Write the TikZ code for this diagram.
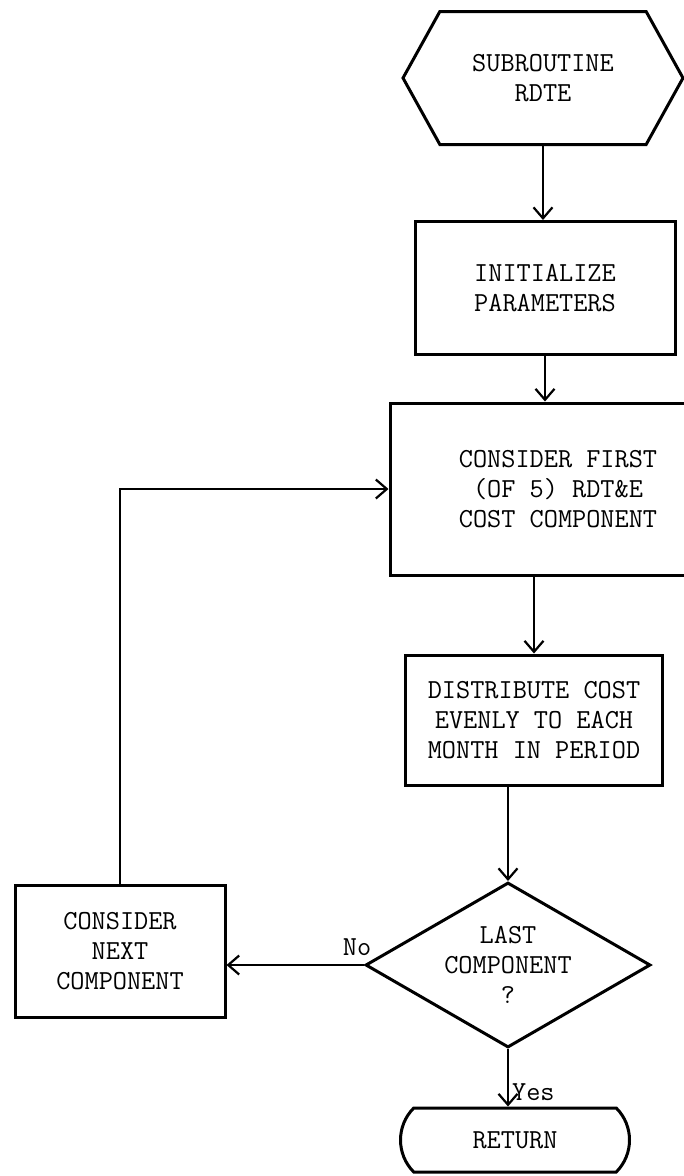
\documentclass[tikz,border=0pt]{standalone}
\usepackage{fontspec}
\usetikzlibrary{arrows.meta,positioning,shapes.geometric,shapes.symbols,shapes.misc}
\tikzset{
  txt/.style={font=\ttfamily\addfontfeatures{FakeBold=1.2}\fontsize{27.5}{30}\selectfont},
  box/.style={draw, line width=3pt, align=center, txt, inner sep=2pt,
              minimum width=#1},
  box/.default=250pt,
  term/.style={box=280pt, signal, signal to=west and east,
               signal pointer angle=122, minimum height=133pt},
  dec/.style={box=285pt, diamond, minimum height=165pt, aspect=1.73, inner sep=0pt},
  ret/.style={box=233pt, rounded rectangle, rounded rectangle arc length=90,
              minimum height=64pt},
  lbl/.style={txt, inner sep=3pt},
  arr/.style={-{Straight Barb[length=11pt, width=19pt]}, line width=2.2pt},
}
\begin{document}
\begin{tikzpicture}[x=1pt, y=-1pt]
\useasboundingbox (0,0) rectangle (684,1176);
% main column
\node[term] (sub) at (543,78) {SUBROUTINE\\RDTE};
\node[box=260pt, minimum height=133pt] (init) at (545,288) {INITIALIZE\\PARAMETERS};
\node[box=336pt, minimum height=172pt] (first) at (558,489) {CONSIDER FIRST\\(OF 5) RDT\&E\\COST COMPONENT};
\node[box=257pt, minimum height=130pt] (dist) at (534,720) {DISTRIBUTE COST\\EVENLY TO EACH\\MONTH IN PERIOD};
\node[dec] (last) at (508,965) {LAST\\COMPONENT\\?};
\node[ret] (ret) at (515,1140) {RETURN};
% loop back
\node[box=210pt, minimum height=132pt] (next) at (120,951) {CONSIDER\\NEXT\\COMPONENT};
\draw[arr] (sub.south) -- (sub.south |- init.north);
\draw[arr] (init.south) -- (init.south |- first.north);
\draw[arr] (dist.north |- first.south) -- (dist.north);
\draw[arr] (last.north |- dist.south) -- (last.north);
\draw[arr] (last.south) -- node[lbl, right, pos=0.75]{Yes} (last.south |- ret.north);
\draw[arr] (last.west) -- node[lbl, above=5pt, pos=0.05]{No} (last.west -| next.east);
\draw[arr] (next.north) |- (first.west);
\end{tikzpicture}
\end{document}
